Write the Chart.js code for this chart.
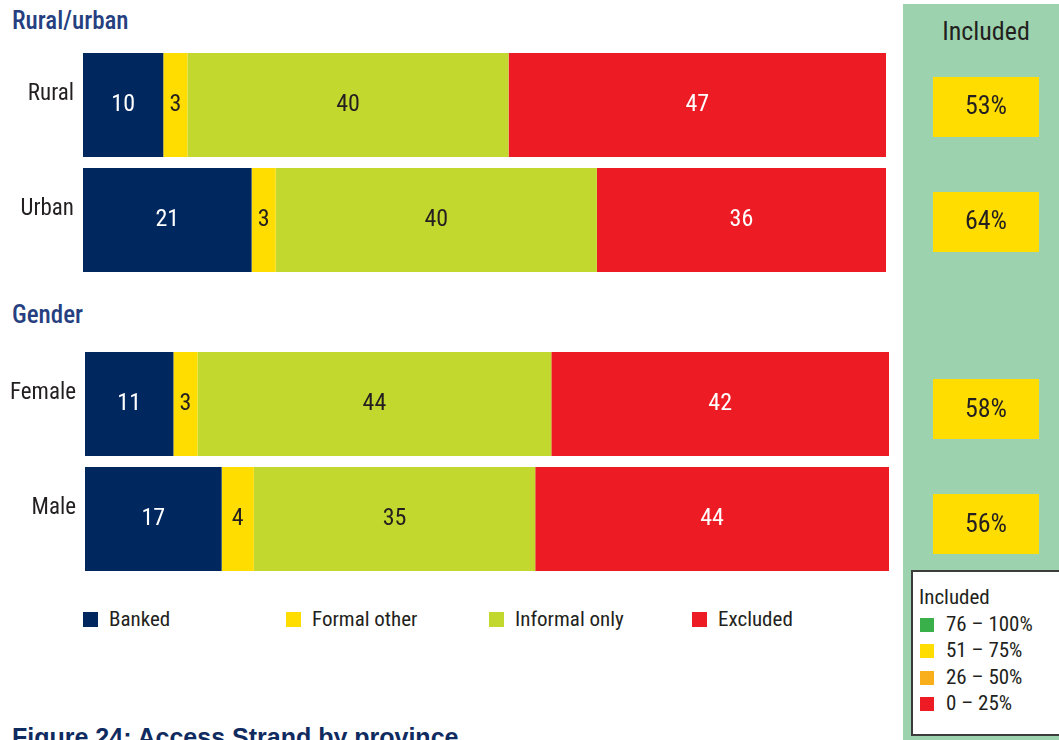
<!DOCTYPE html>
<html>
<head>
<meta charset="utf-8">
<script src="https://cdn.jsdelivr.net/npm/chart.js@4/dist/chart.umd.min.js"></script>
<style>
  html, body { margin: 0; padding: 0; background: #ffffff; }
  body {
    width: 1059px; height: 740px; position: relative; overflow: hidden;
    font-family: "Roboto Condensed", "DejaVu Sans Condensed", sans-serif;
    color: #231f20;
  }
  .abs { position: absolute; white-space: nowrap; }
  #panel { left: 903px; top: 4px; width: 170px; height: 740px; background: #9cd3ae; }
  .heading { left: 12px; font-size: 25px; line-height: 25px; font-weight: 500; color: #263f80; }
  #includedTitle { left: 903px; width: 166px; top: 18px; text-align: center; font-size: 26px; line-height: 26px; }
  canvas { position: absolute; left: 0; }
  .swatch { position: absolute; width: 15px; height: 15px; }
  .legText { position: absolute; font-size: 21px; line-height: 21px; }
  #bandBox {
    left: 911px; top: 570px; width: 150px; height: 166px; box-sizing: border-box;
    border: 2px solid #3c3c3c; background: #ffffff;
  }
  #caption {
    left: 12px; top: 725px; font-family: "Liberation Sans", sans-serif; font-weight: bold;
    font-size: 25px; line-height: 25px; color: #0f2b5f;
  }
</style>
</head>
<body>
<div id="panel" class="abs"></div>
<div id="includedTitle" class="abs">Included</div>
<div class="abs heading" style="top:8px">Rural/urban</div>
<div class="abs heading" style="top:302px">Gender</div>
<canvas id="ruralUrban" width="1059" height="280" style="top:22px"></canvas>
<canvas id="gender" width="1059" height="280" style="top:321px"></canvas>
<div id="legend"></div>
<div id="bandBox" class="abs"></div>
<div id="caption" class="abs">Figure 24: Access Strand by province</div>

<script>
// ---- data ----
const seriesNames = ['Banked', 'Formal other', 'Informal only', 'Excluded'];
const seriesColors = ['#00285e', '#ffdd00', '#c2d82e', '#ed1c24'];
const seriesLabelColors = ['#ffffff', '#231f20', '#231f20', '#ffffff'];

const ruralUrbanCategories = ['Rural', 'Urban'];
const ruralUrbanBanked = [10, 21];
const ruralUrbanFormalOther = [3, 3];
const ruralUrbanInformalOnly = [40, 40];
const ruralUrbanExcluded = [47, 36];

const genderCategories = ['Female', 'Male'];
const genderBanked = [11, 17];
const genderFormalOther = [3, 4];
const genderInformalOnly = [44, 35];
const genderExcluded = [42, 44];

// "Included" colour bands: lower bound, label, colour
const bandMins = [76, 51, 26, 0];
const bandLabels = ['76 \u2013 100%', '51 \u2013 75%', '26 \u2013 50%', '0 \u2013 25%'];
const bandColors = ['#39b04a', '#ffdd00', '#f9ae1c', '#ed1c24'];

const FONT = '"Roboto Condensed", "DejaVu Sans Condensed", sans-serif';
const TEXT = '#231f20';

function bandColor(v) {
  for (let i = 0; i < bandMins.length; i++) if (v >= bandMins[i]) return bandColors[i];
  return bandColors[bandColors.length - 1];
}

// numbers written in the middle of each bar segment
const segmentLabels = {
  id: 'segmentLabels',
  afterDatasetsDraw(chart) {
    const ctx = chart.ctx;
    ctx.save();
    ctx.font = '24px ' + FONT;
    ctx.textAlign = 'center';
    ctx.textBaseline = 'middle';
    chart.data.datasets.forEach((ds, di) => {
      const meta = chart.getDatasetMeta(di);
      meta.data.forEach((bar, i) => {
        ctx.fillStyle = seriesLabelColors[di];
        ctx.fillText(String(ds.data[i]), (bar.x + bar.base) / 2, bar.y);
      });
    });
    ctx.restore();
  }
};

// "Included" share (banked + formal other + informal only) beside each bar
const includedBoxes = {
  id: 'includedBoxes',
  afterDatasetsDraw(chart, args, opts) {
    const ctx = chart.ctx;
    const yScale = chart.scales.y;
    const ds = chart.data.datasets;
    ctx.save();
    chart.data.labels.forEach((lab, i) => {
      const included = ds[0].data[i] + ds[1].data[i] + ds[2].data[i];
      const cy = yScale.getPixelForValue(i) + opts.shift;
      ctx.fillStyle = bandColor(included);
      ctx.fillRect(opts.left, Math.round(cy - opts.height / 2), opts.width, opts.height);
      ctx.fillStyle = TEXT;
      ctx.font = '26px ' + FONT;
      ctx.textAlign = 'center';
      ctx.textBaseline = 'middle';
      ctx.fillText(included + '%', opts.left + opts.width / 2, cy + 1);
    });
    ctx.restore();
  }
};

function makeChart(id, categories, values, axisWidth, rightPad, boxShift) {
  return new Chart(document.getElementById(id), {
    type: 'bar',
    data: {
      labels: categories,
      datasets: values.map((v, k) => ({
        label: seriesNames[k],
        data: v,
        backgroundColor: seriesColors[k],
        borderWidth: 0,
        categoryPercentage: 104 / 115,
        barPercentage: 1
      }))
    },
    options: {
      indexAxis: 'y',
      responsive: false,
      animation: false,
      devicePixelRatio: 1,
      layout: { padding: { top: 25.5, bottom: 24.5, left: 0, right: rightPad } },
      scales: {
        x: { stacked: true, min: 0, max: 100, display: false },
        y: {
          stacked: true,
          grid: { display: false, drawTicks: false },
          border: { display: false },
          ticks: {
            color: TEXT,
            font: { family: FONT, size: 23 },
            padding: 9,
            labelOffset: -11
          },
          afterFit(scale) { scale.width = axisWidth; }
        }
      },
      plugins: {
        legend: { display: false },
        tooltip: { enabled: false },
        includedBoxes: { left: 933, width: 106, height: 60, shift: boxShift }
      }
    },
    plugins: [segmentLabels, includedBoxes]
  });
}

makeChart('ruralUrban', ruralUrbanCategories,
  [ruralUrbanBanked, ruralUrbanFormalOther, ruralUrbanInformalOnly, ruralUrbanExcluded],
  83, 173, 1.5);
makeChart('gender', genderCategories,
  [genderBanked, genderFormalOther, genderInformalOnly, genderExcluded],
  85, 170, 5);

// series legend under the bars
const legend = document.getElementById('legend');
seriesNames.forEach((name, k) => {
  const x = 83 + 203 * k;
  const sw = document.createElement('div');
  sw.className = 'swatch';
  sw.style.left = x + 'px'; sw.style.top = '612px';
  sw.style.background = seriesColors[k];
  legend.appendChild(sw);
  const t = document.createElement('div');
  t.className = 'legText abs';
  t.style.left = (x + 26) + 'px'; t.style.top = '609px';
  t.textContent = name;
  legend.appendChild(t);
});

// colour key for the "Included" boxes
const box = document.getElementById('bandBox');
const head = document.createElement('div');
head.className = 'legText';
head.style.left = '6px'; head.style.top = '15px';
head.textContent = 'Included';
box.appendChild(head);
bandLabels.forEach((lab, k) => {
  const y = 46 + 26.3 * k;
  const sw = document.createElement('div');
  sw.className = 'swatch';
  sw.style.width = '14px'; sw.style.height = '14px';
  sw.style.left = '7px'; sw.style.top = y + 'px';
  sw.style.background = bandColors[k];
  box.appendChild(sw);
  const t = document.createElement('div');
  t.className = 'legText';
  t.style.left = '33px'; t.style.top = (y - 4) + 'px';
  t.textContent = lab;
  box.appendChild(t);
});
</script>
</body>
</html>
